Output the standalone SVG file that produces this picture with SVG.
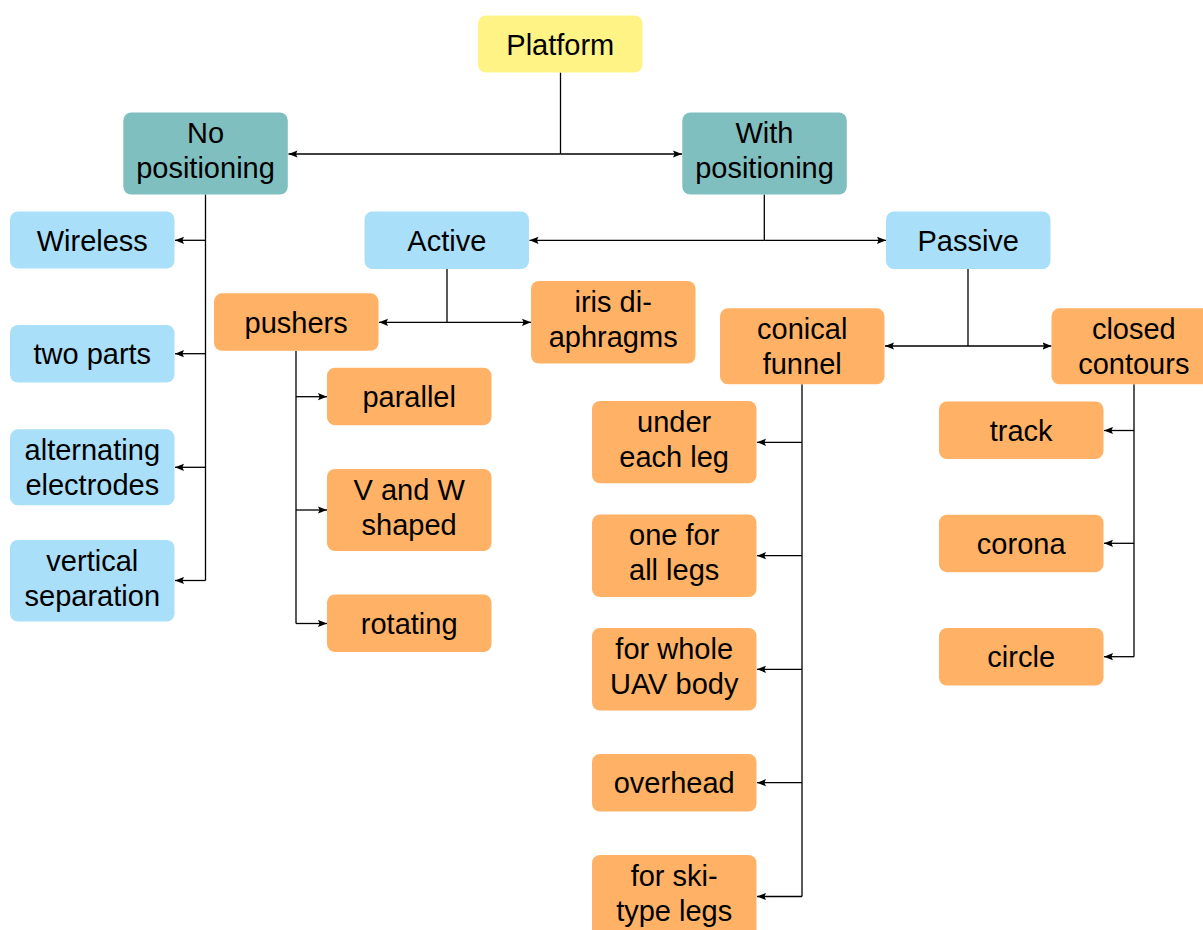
<svg xmlns="http://www.w3.org/2000/svg" width="1203" height="930" viewBox="0 0 1203 930">
  <defs>
    <marker id="arr" markerUnits="userSpaceOnUse" markerWidth="10" markerHeight="8" refX="9" refY="4" orient="auto">
      <path d="M0,0.4 L9,4 L0,7.6 L1.6,4 z" fill="#000"/>
    </marker>
    <style>
      .box { stroke: none; }
      .yel { fill: #fff385; }
      .teal { fill: #80bfbf; }
      .blue { fill: #aadff9; }
      .org { fill: #ffb266; }
      text { font-family: "Liberation Sans", Arial, sans-serif; font-size: 29px; fill: #000; text-anchor: middle; }
      .ln { stroke: #000; stroke-width: 1.3; fill: none; }
      .ar { stroke: #000; stroke-width: 1.3; fill: none; marker-end: url(#arr); }
    </style>
  </defs>
  <rect width="1203" height="930" fill="#fff"/>

  <!-- connectors -->
  <g id="connectors">
    <!-- Platform -->
    <path class="ln" d="M560.5,72.5 V154"/>
    <path class="ar" d="M560.5,154 H288.5"/>
    <path class="ar" d="M560.5,154 H682"/>
    <!-- No positioning -->
    <path class="ln" d="M205.5,194.5 V580.5"/>
    <path class="ar" d="M205.5,240.3 H175"/>
    <path class="ar" d="M205.5,353.7 H175"/>
    <path class="ar" d="M205.5,467.3 H175"/>
    <path class="ar" d="M205.5,580.5 H175"/>
    <!-- With positioning -->
    <path class="ln" d="M764.3,194.5 V240.3"/>
    <path class="ar" d="M764.3,240.3 H529.5"/>
    <path class="ar" d="M764.3,240.3 H886"/>
    <!-- Active -->
    <path class="ln" d="M447,269 V322.3"/>
    <path class="ar" d="M447,322.3 H379"/>
    <path class="ar" d="M447,322.3 H531"/>
    <!-- pushers -->
    <path class="ln" d="M296,351 V623.5"/>
    <path class="ar" d="M296,396.7 H327"/>
    <path class="ar" d="M296,510 H327"/>
    <path class="ar" d="M296,623.5 H327"/>
    <!-- Passive -->
    <path class="ln" d="M968,269 V346"/>
    <path class="ar" d="M968,346 H885"/>
    <path class="ar" d="M968,346 H1051.5"/>
    <!-- conical funnel -->
    <path class="ln" d="M802,384.3 V896.5"/>
    <path class="ar" d="M802,442.3 H757"/>
    <path class="ar" d="M802,555.7 H757"/>
    <path class="ar" d="M802,669.3 H757"/>
    <path class="ar" d="M802,782.7 H757"/>
    <path class="ar" d="M802,896.5 H757"/>
    <!-- closed contours -->
    <path class="ln" d="M1134,384.3 V656.7"/>
    <path class="ar" d="M1134,430.5 H1104"/>
    <path class="ar" d="M1134,543.3 H1104"/>
    <path class="ar" d="M1134,656.7 H1104"/>
  </g>

  <!-- nodes -->
  <g id="platform">
    <rect class="box yel" x="478" y="15.5" width="164.5" height="57" rx="8"/>
    <text x="560.3" y="54.8">Platform</text>
  </g>
  <g id="no-positioning">
    <rect class="box teal" x="123.3" y="112.5" width="164.5" height="82" rx="8"/>
    <text x="205.5" y="143">No</text>
    <text x="205.5" y="178">positioning</text>
  </g>
  <g id="with-positioning">
    <rect class="box teal" x="682.3" y="112.5" width="164.5" height="82" rx="8"/>
    <text x="764.5" y="143">With</text>
    <text x="764.5" y="178">positioning</text>
  </g>
  <g id="wireless">
    <rect class="box blue" x="10" y="211.5" width="164.5" height="57" rx="8"/>
    <text x="92.3" y="250.8">Wireless</text>
  </g>
  <g id="two-parts">
    <rect class="box blue" x="10" y="325" width="164.5" height="57.5" rx="8"/>
    <text x="92.3" y="364.3">two parts</text>
  </g>
  <g id="alternating-electrodes">
    <rect class="box blue" x="10" y="429.3" width="164.5" height="76" rx="8"/>
    <text x="92.3" y="459.8">alternating</text>
    <text x="92.3" y="494.8">electrodes</text>
  </g>
  <g id="vertical-separation">
    <rect class="box blue" x="10" y="540" width="164.5" height="81.5" rx="8"/>
    <text x="92.3" y="570.5">vertical</text>
    <text x="92.3" y="605.5">separation</text>
  </g>
  <g id="active">
    <rect class="box blue" x="364.5" y="211.5" width="164.5" height="57.5" rx="8"/>
    <text x="446.8" y="250.8">Active</text>
  </g>
  <g id="passive">
    <rect class="box blue" x="886" y="211.5" width="164.5" height="57.5" rx="8"/>
    <text x="968.2" y="250.8">Passive</text>
  </g>
  <g id="pushers">
    <rect class="box org" x="214" y="293.3" width="164.5" height="57.5" rx="8"/>
    <text x="296.2" y="332.6">pushers</text>
  </g>
  <g id="iris-diaphragms">
    <rect class="box org" x="531" y="281" width="164.5" height="82.5" rx="8"/>
    <text x="613.2" y="311.5">iris di-</text>
    <text x="613.2" y="346.5">aphragms</text>
  </g>
  <g id="conical-funnel">
    <rect class="box org" x="720" y="308.3" width="164.5" height="76" rx="8"/>
    <text x="802.2" y="338.8">conical</text>
    <text x="802.2" y="373.8">funnel</text>
  </g>
  <g id="closed-contours">
    <rect class="box org" x="1051.5" y="308.3" width="164.5" height="76" rx="8"/>
    <text x="1133.8" y="338.8">closed</text>
    <text x="1133.8" y="373.8">contours</text>
  </g>
  <g id="parallel">
    <rect class="box org" x="327" y="367.7" width="164.5" height="57.5" rx="8"/>
    <text x="409.2" y="407">parallel</text>
  </g>
  <g id="v-and-w-shaped">
    <rect class="box org" x="327" y="469" width="164.5" height="82" rx="8"/>
    <text x="409.2" y="499.5">V and W</text>
    <text x="409.2" y="534.5">shaped</text>
  </g>
  <g id="rotating">
    <rect class="box org" x="327" y="594.5" width="164.5" height="57.5" rx="8"/>
    <text x="409.2" y="633.8">rotating</text>
  </g>
  <g id="under-each-leg">
    <rect class="box org" x="592" y="401" width="164.5" height="82.3" rx="8"/>
    <text x="674.2" y="431.5">under</text>
    <text x="674.2" y="466.5">each leg</text>
  </g>
  <g id="one-for-all-legs">
    <rect class="box org" x="592" y="514.5" width="164.5" height="82.5" rx="8"/>
    <text x="674.2" y="545">one for</text>
    <text x="674.2" y="580">all legs</text>
  </g>
  <g id="for-whole-uav-body">
    <rect class="box org" x="592" y="628" width="164.5" height="82.5" rx="8"/>
    <text x="674.2" y="658.5">for whole</text>
    <text x="674.2" y="693.5">UAV body</text>
  </g>
  <g id="overhead">
    <rect class="box org" x="592" y="754" width="164.5" height="57.5" rx="8"/>
    <text x="674.2" y="793.3">overhead</text>
  </g>
  <g id="for-ski-type-legs">
    <rect class="box org" x="592" y="855" width="164.5" height="82.5" rx="8"/>
    <text x="674.2" y="885.5">for ski-</text>
    <text x="674.2" y="920.5">type legs</text>
  </g>
  <g id="track">
    <rect class="box org" x="939" y="401.5" width="164.5" height="57.5" rx="8"/>
    <text x="1021.2" y="440.8">track</text>
  </g>
  <g id="corona">
    <rect class="box org" x="939" y="514.7" width="164.5" height="57.5" rx="8"/>
    <text x="1021.2" y="554">corona</text>
  </g>
  <g id="circle">
    <rect class="box org" x="939" y="628" width="164.5" height="57.5" rx="8"/>
    <text x="1021.2" y="667.3">circle</text>
  </g>
</svg>
